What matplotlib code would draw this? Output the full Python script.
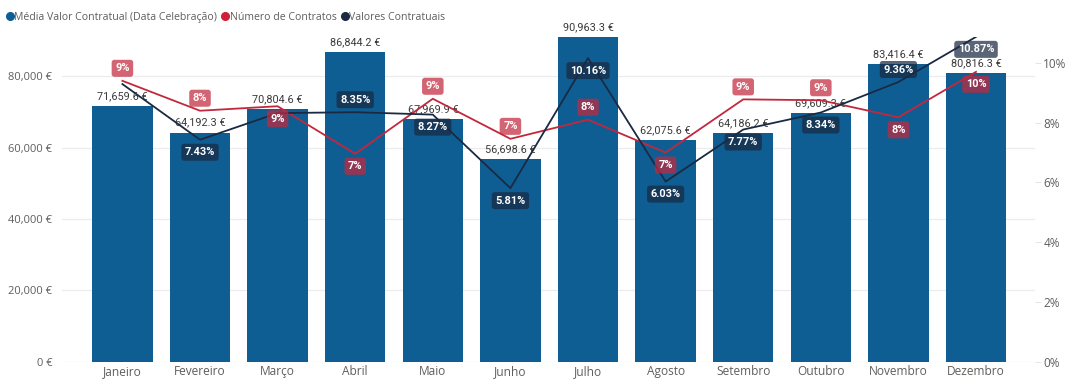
import matplotlib
matplotlib.use("Agg")
import matplotlib.pyplot as plt
from matplotlib.lines import Line2D
from matplotlib.ticker import FuncFormatter, FixedLocator
import numpy as np

# --- data -------------------------------------------------------------
meses = ["Janeiro", "Fevereiro", "Março", "Abril", "Maio", "Junho", "Julho",
         "Agosto", "Setembro", "Outubro", "Novembro", "Dezembro"]
media_valor = [71659.6, 64192.3, 70804.6, 86844.2, 67969.9, 56698.6,
               90963.3, 62075.6, 64186.2, 69609.3, 83416.4, 80816.3]
numero_contratos_pct = [9.4, 8.4, 8.55, 6.96, 8.8, 7.46, 8.1, 7.0,
                        8.78, 8.75, 8.18, 9.7]
valores_contratuais_pct = [9.29, 7.43, 8.32, 8.35, 8.27, 5.81, 10.16, 6.03,
                           7.77, 8.34, 9.36, 10.87]

# label placement (1 = above the point, 0 = below, None = hidden)
pos_contratos = [1, 1, 0, 0, 1, 1, 1, 0, 1, 1, 0, 0]
pos_valores = [None, 0, None, 1, 0, 0, 0, 0, 0, 0, 1, 0]

# --- style ------------------------------------------------------------
C_BAR = "#0F5E93"
C_RED = "#C2283D"
C_NAVY = "#1A2A42"
C_GRID = "#ECECEC"
C_TXT = "#605E5C"
UI_FONT = "Open Sans"
LBL_FONT = "Roboto"

fig = plt.figure(figsize=(10.67, 3.83), dpi=100)
ax = fig.add_axes([0.058, 0.055, 0.912, 0.848])
ax2 = ax.twinx()

x = np.arange(len(meses))

# bars
ax.bar(x, media_valor, width=0.78, color=C_BAR, zorder=2)
ax.set_xlim(-0.78, len(meses) - 1 + 0.76)
ax.set_ylim(0, 90900)
ax.yaxis.set_major_locator(FixedLocator([0, 20000, 40000, 60000, 80000]))
ax.yaxis.set_major_formatter(FuncFormatter(lambda v, p: f"{v:,.0f} €"))
ax.grid(axis="y", color=C_GRID, linewidth=0.9, zorder=0)
ax.set_axisbelow(True)
ax.set_xticks(x)
ax.set_xticklabels(meses)
ax.tick_params(axis="x", length=0, pad=2, labelsize=8.6, labelcolor=C_TXT)
ax.tick_params(axis="y", length=0, pad=7, labelsize=8.0, labelcolor=C_TXT)
for lab in ax.get_xticklabels() + ax.get_yticklabels():
    lab.set_fontfamily(UI_FONT)
for s in ax.spines.values():
    s.set_visible(False)

# bar value labels
for xi, v in zip(x, media_valor):
    ax.annotate(f"{v:,.1f} €", (xi, v), xytext=(0, 3.5), textcoords="offset points",
                ha="center", va="bottom", fontsize=7.8, color="#3A3A3A",
                fontfamily=LBL_FONT, zorder=3, annotation_clip=False)

# percentage lines on the secondary axis
ax2.set_ylim(0, 10.86)
ax2.yaxis.set_major_locator(FixedLocator([0, 2, 4, 6, 8, 10]))
ax2.yaxis.set_major_formatter(FuncFormatter(lambda v, p: f"{v:.0f}%"))
ax2.tick_params(axis="y", length=4, width=0.6, color="#E0E0E0", pad=2,
                labelsize=8.5, labelcolor=C_TXT)
for lab in ax2.get_yticklabels():
    lab.set_fontfamily(UI_FONT)
for s in ax2.spines.values():
    s.set_visible(False)

ax2.plot(x, numero_contratos_pct, color=C_RED, linewidth=1.3, zorder=4)
ax2.plot(x, valores_contratuais_pct, color=C_NAVY, linewidth=1.3, zorder=5)


def pct_label(xi, v, above, color, fmt):
    off = 9.0 if above else -9.0
    ax2.annotate(fmt.format(v), (xi, v), xytext=(0, off), textcoords="offset points",
                 ha="center", va="center", fontsize=7.9, color="white",
                 fontweight="bold", fontfamily=LBL_FONT, zorder=6,
                 annotation_clip=False,
                 bbox=dict(boxstyle="round,pad=0.32,rounding_size=0.25",
                           fc=color, ec="none", alpha=0.72))


for xi, v, p in zip(x, numero_contratos_pct, pos_contratos):
    if p is not None:
        pct_label(xi, v, p == 1, C_RED, "{:.0f}%")
for xi, v, p in zip(x, valores_contratuais_pct, pos_valores):
    if p is not None:
        pct_label(xi, v, p == 1, C_NAVY, "{:.2f}%")

# legend
handles = [
    Line2D([], [], marker="o", linestyle="", color=C_BAR, markersize=5.5),
    Line2D([], [], marker="o", linestyle="", color="#D11F35", markersize=5.5),
    Line2D([], [], marker="o", linestyle="", color=C_NAVY, markersize=5.5),
]
fig.legend(handles, ["Média Valor Contratual (Data Celebração)", "Número de Contratos",
                     "Valores Contratuais"],
           loc="upper left", bbox_to_anchor=(0.0, 0.985), ncol=3, frameon=False,
           handlelength=0.6, handletextpad=0.15, columnspacing=0.45,
           borderaxespad=0.2, prop={"family": UI_FONT, "size": 7.6},
           labelcolor=C_TXT)

fig.savefig("out.png", dpi=100)
